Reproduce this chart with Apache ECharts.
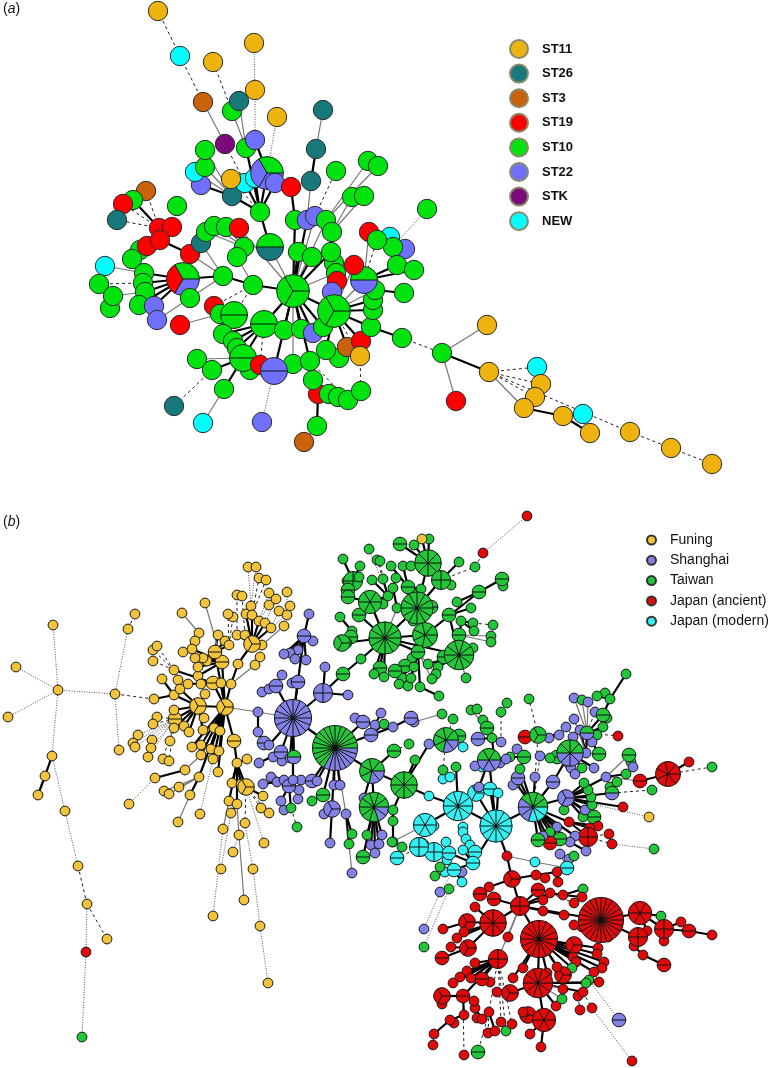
<!DOCTYPE html>
<html><head><meta charset="utf-8">
<style>html,body{margin:0;padding:0;background:#fff}#c{width:775px;height:1068px}</style>
<script src="https://cdn.jsdelivr.net/npm/echarts@6/dist/echarts.min.js"></script>
</head><body><div id="c"></div>
<script>
// Each node: [x, y, isolates (one letter per isolate, clockwise from east), link to parent, children]
// link: s = thick, t = thin, d = dashed, o = dotted
const legendA = [['ST11','Y'],['ST26','T'],['ST3','O'],['ST19','R'],['ST10','G'],['ST22','B'],['STK','P'],['NEW','C']];
const legendB = [['Funing','Y'],['Shanghai','B'],['Taiwan','G'],['Japan (ancient)','R'],['Japan (modern)','C']];

const rightChain = [402,338,'G','s',[
  [442,353,'G','d',[
    [487,325,'Y','t'],[456,401,'R','t'],
    [489,372,'Y','s',[
      [537,367,'C','d'],[541,384,'Y','d'],[535,397,'Y','d'],[524,408,'Y','t',[[563,416,'Y','s',[[590,433,'Y','s'],[583,414,'C','s']]]]],
      [630,432,'Y','d',[[671,448,'Y','d',[[712,464,'Y','d']]]]]
    ]]
  ]]
]];

const treeTop = [260,212,'G','s',[
  [232,196,'T','s',[[201,185,'B','s'],[195,172,'C','t'],[205,167,'G','t'],[205,150,'G','t']]],
  [225,144,'P','d',[[203,102,'O','t',[[180,56,'C','d',[[158,11,'Y','d']]]]]]],
  [246,148,'G','s',[[232,111,'G','t',[[213,62,'Y','d']]],[239,101,'T','t']]],
  [245,183,'C','s'],[255,178,'C','s'],
  [267,173,'BBG','s',[[255,140,'B','s',[[255,90,'Y','o',[[254,43,'Y','o']]]]],[277,117,'Y','o']]],
  [275,183,'B','s'],
  [231,179,'Y','d']
]];

const panelATree = [293,291,'GGG','',[
  [270,247,'TG','t',[treeTop]],
  [295,220,'G','s',[[291,187,'R','s']]],
  [307,220,'B','s',[[311,181,'T','t',[[316,149,'T','s',[[323,110,'T','t']]]]]]],
  [315,216,'B','t',[[336,171,'G','d']]],
  [298,252,'G','s'],[312,257,'G','s'],
  [326,220,'G','t',[[368,161,'G','t'],[378,166,'G','t']]],
  [331,252,'G','s',[[334,263,'G','s'],[332,232,'G','s',[[352,197,'G','t'],[364,196,'G','t']]]]],
  [336,273,'G','t'],
  [253,285,'G','s',[
    [223,276,'G','s',[
      [183,279,'BRG','s',[
        [144,273,'G','s',[[105,266,'C','t'],[132,259,'G','d',[[140,250,'G','t']]]]],
        [143,283,'G','s',[[99,284,'G','d']]],
        [145,292,'G','s',[[113,296,'G','t',[[110,308,'G','t']]]]],
        [139,305,'G','s'],[154,306,'B','s']
      ]],
      [190,298,'G','t',[[157,320,'B','t']]],
      [190,254,'R','t',[[160,240,'R','s',[[147,246,'R','s'],[159,228,'R','s',[[146,191,'O','d'],[133,200,'G','s'],[123,204,'R','d'],[117,220,'T','d']]],[172,227,'R','s',[[177,206,'G','d']]]]]]],
      [201,243,'T','t']
    ]],
    [237,257,'G','t',[[244,247,'G','t',[[206,232,'G','t'],[214,226,'G','t'],[226,227,'G','t']]]]],
    [214,306,'R','d'],
    [234,315,'GG','d',[[220,314,'G','t',[[180,325,'R','t']]]]]
  ]],
  [239,228,'R','t'],
  [264,324,'GG','s',[
    [223,334,'G','s'],[233,341,'G','s'],[237,348,'G','s'],
    [243,358,'GG','s',[[197,359,'G','t'],[212,370,'G','s',[[174,406,'T','d']]],[224,389,'G','s',[[203,423,'C','t']]],[250,370,'G','s']]],
    [260,365,'R','d']
  ]],
  [284,330,'G','s'],[301,329,'G','s'],
  [293,364,'G','t'],
  [274,371,'BB','s',[[262,422,'B','o']]],
  [310,361,'G','s',[[313,380,'G','d',[[318,394,'R','d',[[317,426,'G','s',[[304,442,'O','t']]]]],[329,394,'G','d'],[338,397,'G','t']]],[348,400,'G','d']]],
  [313,333,'B','s'],[323,327,'G','s'],
  [334,311,'GGG','s',[
    [326,350,'G','s',[[339,358,'G','t']]],[347,347,'O','s'],[361,341,'R','s'],[360,356,'Y','d',[[361,391,'G','d']]],
    [371,327,'G','s',[rightChain]],
    [373,310,'G','s'],[373,300,'G','s'],[375,290,'G','t',[[404,293,'G','s']]],
    [364,280,'BG','t',[[369,232,'R','t'],[377,240,'G','d',[[390,237,'C','t'],[405,249,'B','t'],[393,247,'G','t',[[427,209,'G','o']]]]],[397,265,'G','s'],[414,270,'G','s']]],
    [354,265,'R','t'],[337,281,'R','s'],[332,292,'B','s']
  ]]
]];

const leftTree = [115,694,'Y','d',[
  [128,629,'Y','o',[[135,614,'Y','d']]],
  [119,750,'Y','o'],
  [58,690,'Y','o',[
    [53,625,'Y','o'],[16,667,'Y','o'],[8,717,'Y','o'],
    [52,756,'Y','o',[
      [45,776,'Y','s',[[38,795,'Y','s']]],
      [65,811,'Y','o',[[78,866,'Y','o',[[87,904,'Y','d',[[107,939,'Y','d'],[86,952,'R','o',[[82,1037,'G','o']]]]]]]]]
    ]]
  ]]
]];

const funingLow = [237,763,'Y','s',[
  [232,783,'Y','s'],[241,784,'Y','s'],
  [229,801,'Y','s',[[223,829,'Y','t',[[213,916,'Y','o']]]]],
  [237,804,'Y','s',[[231,813,'Y','s',[[221,869,'Y','o']]],[239,835,'Y','t',[[244,900,'Y','t'],[233,852,'Y','o']]]]],
  [246,787,'YYY','s',[[263,796,'Y','s'],[261,808,'Y','d'],[269,813,'Y','d'],[245,823,'Y','d',[[253,869,'Y','o',[[260,926,'Y','o',[[268,983,'Y','o']]]]]]],[264,843,'Y','o']]],
  [247,759,'Y','s']
]];

const funingTop = [252,644,'YYY','s',[
  [237,635,'Y','s',[[237,595,'Y','d']]],[245,635,'Y','s',[[242,596,'Y','d']]],
  [246,614,'Y','s'],[252,615,'Y','s',[[251,606,'Y','s',[[248,567,'Y','o'],[256,567,'Y','o']]],[259,578,'Y','d'],[266,580,'Y','d']]],
  [259,621,'Y','s',[[269,605,'Y','o'],[269,593,'Y','o']]],
  [265,623,'Y','s',[[276,599,'Y','o']]],[271,628,'Y','s',[[279,611,'Y','o'],[287,615,'Y','o',[[290,606,'Y','o'],[287,592,'Y','o']]]]],
  [262,645,'Y','s',[[284,626,'Y','t']]]
]];

const funing = [225,707,'YYY','t',[
  [198,706,'YYY','s',[
    [175,719,'YY','s',[[157,717,'Y','d'],[153,724,'Y','d'],[138,735,'Y','o'],[133,743,'Y','o'],[135,747,'Y','o'],[152,740,'Y','o'],[151,748,'Y','o'],[148,757,'Y','o'],[170,741,'Y','t'],[163,759,'Y','d'],[169,761,'Y','d']]],
    [174,695,'Y','s',[[154,699,'Y','s',[leftTree]],[162,679,'Y','s']]],
    [174,710,'Y','s'],[174,728,'Y','s'],
    [184,726,'Y','s'],[189,732,'Y','s'],[204,718,'Y','s'],[205,694,'Y','s'],[180,689,'Y','s',[[178,680,'Y','s']]],[203,730,'Y','s']
  ]],
  [231,684,'Y','s',[[238,664,'Y','s',[funingTop]],[255,665,'Y','t',[[260,657,'Y','t']]]]],
  [222,662,'YY','s',[[198,676,'Y','s'],[198,667,'Y','s'],[207,661,'Y','s'],[203,658,'Y','s'],[195,658,'Y','s'],[192,649,'Y','s',[[183,652,'Y','s'],[195,641,'Y','s',[[199,633,'Y','s',[[182,613,'Y','t']]]]]]],[205,603,'Y','t']]],
  [215,652,'YY','s',[[218,635,'Y','s'],[225,641,'Y','s'],[229,645,'Y','s',[[233,617,'Y','d'],[228,614,'Y','d']]]]],
  [213,683,'YY','s',[[188,684,'Y','s'],[201,684,'Y','s'],[174,670,'Y','s',[[153,650,'Y','d'],[157,646,'Y','d'],[153,661,'Y','d']]]]],
  [221,683,'Y','s'],
  [214,728,'Y','s'],[220,731,'Y','s'],[211,749,'Y','s'],[219,751,'Y','s'],[213,759,'Y','s',[[200,814,'Y','o']]],[218,772,'Y','s'],
  [234,741,'YY','s',[funingLow]],
  [201,745,'Y','s'],[192,747,'Y','s'],[201,755,'Y','s',[[185,770,'Y','t',[[155,778,'Y','s',[[129,804,'Y','o']]]]]]],
  [199,777,'Y','s',[[190,795,'Y','s',[[178,822,'Y','t']]],[164,791,'Y','t'],[169,794,'Y','t'],[179,787,'Y','t']]]
]];

const shanghai = [293,718,'BBBBBBBBBBBBBBBB','s',[
  [323,693,'BBBB','s',[
    [348,695,'B','s'],[325,667,'B','s'],
    [343,674,'GG','s',[[361,659,'G','s',[
      [385,638,'GGGGGGGGGGGG','s',[
        [342,643,'GGG','s',[[351,637,'GG','s',[[352,631,'G','s',[[340,617,'G','s']]]]],[347,643,'G','s']]],
        [359,615,'GG','s'],[370,602,'GGGGGG','s',[[348,597,'GG','s',[[348,590,'GG','s',[[353,581,'GGGG','s',[[343,559,'G','s'],[347,581,'G','s'],[360,566,'G','s']]],[359,577,'G','s']]]]],[383,604,'G','s'],[388,596,'G','s',[[372,580,'G','s'],[383,579,'G','s',[[377,560,'G','d'],[380,561,'G','d']]],[369,549,'G','o']]]]],
        [397,608,'G','t',[[393,588,'G','s',[[396,578,'G','s']]]]],
        [417,608,'GGGGGGGGGGGG','s',[[431,607,'GG','s'],[412,593,'G','s'],[421,589,'G','s',[[408,587,'GG','s',[[391,566,'G','s'],[403,566,'G','s']]]]],[413,621,'G','s'],
          [428,563,'GGGGGGGG','s',[[411,566,'G','s'],[414,545,'G','s'],[429,539,'G','s'],[422,539,'Y','s'],[400,544,'GG','s'],[434,571,'G','s']]],
          [441,580,'GGGG','s',[[451,585,'G','s'],[459,562,'G','s'],[475,567,'G','d',[[483,553,'R','d',[[527,516,'R','o']]]]]]]
        ]],
        [425,635,'GGGGGGG','s',[[479,592,'GG','s',[[502,579,'GG','s',[[503,586,'G','s']]],[457,602,'G','s']]]]],
        [459,655,'GGGGGGGGGG','s',[[449,615,'GG','s',[[471,608,'G','s']]],[461,621,'G','s',[[473,623,'G','s',[[493,625,'G','d']]],[474,631,'G','s']]],[459,635,'GG','s',[[491,636,'G','t'],[491,642,'G','t']]],[473,648,'G','s'],[444,657,'GG','s'],[466,678,'G','t'],[438,667,'G','s'],[428,664,'G','s']]],
        [418,652,'GG','s',[[412,658,'G','s'],[405,666,'GG','s'],[414,667,'G','s'],[402,678,'G','s'],[395,671,'GG','s'],[399,684,'G','s'],[408,686,'G','s'],[411,678,'G','s'],[420,687,'G','s',[[439,696,'G','s']]],[436,674,'G','t'],[432,679,'G','t']]],
        [380,668,'GG','s'],[384,677,'G','s'],[374,674,'G','s']
      ]]
    ]]]]
  ]],
  [304,636,'BB','s',[[309,614,'B','s'],[313,641,'B','s'],[298,650,'B','s'],[306,660,'B','s'],[290,653,'B','s'],[284,654,'B','s'],[295,659,'B','s']]],
  [298,682,'BB','s',[[292,683,'B','s']]],
  [276,686,'BB','s',[[262,692,'B','s'],[269,689,'B','s'],[282,675,'B','s']]],
  [258,712,'B','t',[funing,[258,732,'B','s',[[264,743,'BB','s']]]]],
  [269,745,'B','s'],[281,752,'BB','s',[[273,757,'B','s'],[259,763,'B','s'],[282,761,'B','s']]],
  [290,758,'B','s'],
  [293,780,'B','s',[[271,777,'B','s'],[277,782,'B','s'],[284,780,'B','s'],[263,784,'B','s'],[301,780,'B','s'],[289,786,'BB','s',[[281,801,'B','s',[[284,810,'B','s']]],[291,808,'G','s',[[297,827,'G','d']]],[299,790,'B','s',[[298,799,'B','s']]]]]]],
  [294,757,'BG','s']
]];

const cyanLow = [473,863,'CC','s',[
  [463,827,'C','s'],[463,832,'C','s'],[466,839,'C','s'],[470,845,'C','s'],[463,850,'C','s'],[475,852,'CC','s'],
  [454,870,'CC','s',[[445,872,'C','s'],[447,860,'C','s'],[440,867,'G','s'],[435,876,'G','s'],[462,872,'B','s'],[462,882,'C','s',[[449,889,'G','o',[[424,947,'G','o']]]]],[440,892,'B','o',[[424,929,'B','o']]]]],
  [449,853,'CC','s',[[434,852,'CCCC','s',[[420,847,'CCCC','s',[[397,858,'CC','d']]]]],[446,842,'C','s']]]
]];

const redTree = [507,856,'R','s',[
  [535,862,'C','t',[[567,868,'CC','t',[[569,859,'B','s'],[574,856,'G','s'],[560,854,'B','t']]]]],
  [512,879,'RRR','s',[
    [536,875,'R','s',[[545,878,'R','s'],[557,872,'R','s',[[558,882,'R','s']]]]],
    [489,887,'R','s',[[480,894,'RR','s']]],
    [520,906,'RRRR','s',[
      [538,890,'RR','s'],[550,893,'R','s',[[563,895,'R','s',[[583,889,'G','s'],[582,897,'R','s']]],[574,903,'R','d']]],[543,900,'R','s'],[543,911,'R','s',[[564,915,'R','s']]],
      [494,899,'RR','s'],
      [493,923,'RRRRRRRR','s',[[475,907,'R','s'],[467,922,'RRR','s',[[443,929,'R','s']]],[464,932,'R','s'],[457,938,'R','s'],[468,948,'RRR','s',[[451,947,'R','s'],[442,958,'RR','s']]]]],
      [508,937,'R','t'],
      [539,939,'RRRRRRRRRRRRRRRR','s',[
        [574,945,'RRR','s'],[573,957,'R','s'],[576,962,'R','s'],[598,948,'R','s'],[597,954,'R','s'],[604,962,'R','s'],[602,968,'R','s'],[594,972,'R','s'],[572,968,'G','s'],
        [563,975,'RRR','s'],[557,967,'R','s'],[547,973,'R','s'],[523,968,'R','s'],[513,978,'R','s'],
        [538,983,'RRRRRRRRRR','s',[
          [510,993,'RRR','s',[[497,992,'R','s']]],
          [544,1020,'RRRRRR','s',[[528,1015,'RRR','s'],[523,1012,'R','s'],[530,1034,'R','s'],[541,1047,'R','s']]],
          [556,1006,'R','s'],[562,999,'G','t'],[563,989,'R','t'],
          [583,992,'R','s',[[578,996,'R','s',[[580,1010,'R','d']]],[592,1008,'R','d',[[632,1061,'R','o']]]]],
          [586,983,'G','s',[[589,980,'G','s',[[619,1020,'BB','o']]]]],[599,982,'R','s']
        ]]
      ]],
      [601,920,'RRRRRRRRRRRRRRRRRRRRRRRR','s',[
        [640,913,'RRRRRR','s',[[661,916,'G','s'],[664,929,'RRRR','s',[[681,922,'R','s'],[689,931,'RR','s',[[712,935,'R','s']]],[664,941,'R','s']]],[647,931,'R','s']]],
        [638,937,'RRRR','s',[[634,946,'R','s',[[643,955,'R','s',[[664,965,'RR','s']]]]]]],
        [582,927,'R','s'],[590,930,'R','s'],[608,937,'R','s'],[574,925,'R','s']
      ]],
      [498,959,'RRRR','t',[
        [475,963,'R','s'],[467,971,'R','s'],[460,977,'R','s'],[471,978,'R','s'],[482,979,'RR','s',[[490,982,'R','s']]],[453,983,'R','s'],
        [463,996,'RR','s',[[442,996,'RRR','s',[[442,1004,'R','s']]],[474,1001,'R','s',[[475,1008,'R','s',[[477,1018,'R','s'],[482,1019,'R','s']]]]],[464,1015,'R','s',[[450,1020,'R','s',[[454,1023,'R','s'],[434,1034,'R','s',[[433,1045,'R','t']]]]]]],[464,1055,'R','d']]],
        [489,1012,'R','d',[[488,1033,'R','d'],[495,1031,'R','s'],[478,1052,'GG','d']]],[501,1022,'R','d'],[506,1031,'G','d'],[512,1024,'R','d']
      ]]
    ]]
  ]]
]];

const eastCluster = [533,807,'CCCBBBGGGG','s',[
  [566,798,'BBB','s',[
    [594,817,'GG','s'],[583,817,'G','s'],[585,810,'B','s'],[592,805,'G','s'],[591,797,'G','s'],[588,790,'G','s'],[584,783,'G','s'],
    [606,777,'B','s',[[640,781,'RR','t',[[668,774,'RRRRRRR','s',[[669,767,'R','s'],[689,762,'R','s'],[712,767,'G','d']]]]],[626,774,'G','s'],[629,755,'GG','t',[[631,762,'G','t'],[633,767,'B','t']]]]],
    [612,793,'BG','s',[[652,790,'G','d'],[610,787,'G','s'],[617,782,'G','s']]],
    [623,807,'R','s'],[649,817,'Y','o'],
    [564,810,'G','s']
  ]],
  [553,782,'BB','s',[
    [570,753,'BBBBGGGG','s',[[557,757,'GG','s'],[550,758,'G','s'],[568,763,'B','s'],[571,768,'B','s'],[575,774,'B','s'],[582,768,'G','s'],[586,753,'B','s',[[574,719,'B','t'],[566,727,'B','t'],[580,730,'B','s'],[573,737,'B','s'],[587,733,'BG','s',[[574,698,'B','t'],[582,700,'G','t'],[588,702,'B','t'],[595,712,'B','d'],[603,715,'GG','s',[[607,718,'G','s'],[610,699,'G','s',[[626,674,'G','s'],[605,693,'G','s'],[597,696,'G','s']]]]],[603,727,'G','s'],[597,735,'G','s'],[592,742,'B','s'],[618,736,'R','d'],[599,754,'GG','s']]]]],[594,768,'B','s']]]
  ]],
  [535,777,'B','s'],[516,783,'G','s'],[518,778,'BB','s',[[513,785,'B','s']]],[520,769,'G','s',[[524,757,'GG','s',[[510,757,'G','s'],[517,749,'B','s']]]]],
  [540,756,'B','d'],
  [538,735,'GGG','d',[[525,737,'RR','s'],[529,699,'G','d'],[549,738,'B','s'],[559,735,'B','s']]],
  [569,822,'R','s',[[598,826,'R','s'],[590,828,'R','s'],[588,837,'RRRR','s',[[609,834,'R','d'],[612,844,'R','d',[[654,849,'G','o']]]]]]],
  [557,827,'B','s'],[550,832,'G','s'],[575,836,'B','s'],[570,842,'B','s',[[586,851,'B','s']]],[560,839,'GG','s'],[550,843,'RR','s'],[543,836,'B','s'],[538,840,'GG','s']
]];

const cyanHub = [496,826,'CCCCCCCCCCCC','s',[
  eastCluster, cyanLow, redTree,
  [476,793,'CCC','s'],[490,789,'CC','s'],[498,793,'C','s'],
  [489,760,'BBBGGG','s',[
    [482,767,'C','s'],[475,766,'B','s'],[500,763,'B','s'],[506,759,'B','s'],[494,757,'G','s',[[492,738,'G','s',[[487,728,'GG','s',[[483,720,'G','s'],[471,710,'G','t'],[477,709,'G','t']]],[478,739,'BB','s'],[501,742,'B','s',[[501,712,'G','d',[[507,703,'G','d']]]]]]]]],
    [479,787,'B','s']
  ]]
]];

const panelBTree = [335,748,'BBBBBBBBGGGGGGGGGGGGGGGG','',[
  shanghai,
  [363,722,'BB','s',[[355,718,'B','s'],[375,725,'B','s',[[381,713,'B','s']]]]],
  [371,735,'BB','s',[[384,724,'G','s'],[393,727,'B','s',[[411,718,'BB','s',[[414,722,'B','s',[[442,714,'G','t']]]]]]]]],
  [312,781,'BB','s'],[317,781,'B','s'],[334,785,'B','s'],[340,785,'B','s'],
  [323,795,'GG','s',[[312,801,'G','s']]],
  [332,809,'BBB','s',[[324,814,'B','s'],[330,843,'B','s']]],
  [346,814,'B','t',[[352,834,'G','s'],[349,844,'G','s',[[352,873,'B','t']]]]],
  [372,771,'BBGGGGG','s',[
    [394,751,'GG','s',[[409,744,'G','d']]],
    [364,798,'B','s'],
    [374,807,'BBGGGGGGGG','s',[[365,807,'G','s'],[367,835,'G','s'],[382,835,'B','s'],[371,845,'B','s'],[379,844,'B','s'],[375,853,'B','s'],[363,857,'GG','s']]],
    [404,785,'GGGGGGGG','s',[
      [393,810,'G','s',[[393,821,'G','s',[[393,842,'G','s',[[402,847,'G','d']]]]]]],
      [415,760,'G','s'],
      [429,744,'B','s',[[446,740,'BBGGGGG','s',[[459,736,'GG','s'],[463,747,'C','d'],[453,719,'G','d'],[443,770,'G','d',[[443,779,'C','d'],[450,777,'C','d']]]]]]],
      [429,796,'C','s',[
        [458,806,'CCCCCCCCCC','s',[[456,767,'G','s'],cyanHub,
          [425,825,'CCCCCC','s',[[434,826,'C','s'],[392,842,'G','t'],[419,847,'CCCC','d']]]
        ]]
      ]]
    ]]
  ]]
]];

const palette = {
  a:{Y:'#EEB30E',T:'#17797C',O:'#C9620B',R:'#FF0000',G:'#00E30E',B:'#7070FF',P:'#7B0A7C',C:'#00FFFF'},
  b:{Y:'#F2C43C',B:'#8282E6',G:'#22C638',R:'#E00A0A',C:'#33F0F2'}
};
const unitRadius = {a:9.7, b:4.9};
const sizeExponent = 0.48;
const linkStyle = {
  s:{stroke:'#000',lineWidth:2.2},
  t:{stroke:'#777',lineWidth:1.2},
  d:{stroke:'#222',lineWidth:1,lineDash:[3,3]},
  o:{stroke:'#555',lineWidth:1,lineDash:[1,1.5]}
};

const nodes=[], links=[];
function walk(n, parent, panel){
  const [x,y,c,s,kids]=n;
  if(parent) links.push({p:[parent[0],parent[1]],q:[x,y],s});
  (kids||[]).forEach(k=>walk(k,n,panel));
  nodes.push({x,y,c,panel});
}
walk(panelATree,null,'a');
walk(panelBTree,null,'b');
links.reverse();

function renderLink(params,api){
  const l=links[params.dataIndex];
  const a=api.coord(l.p), b=api.coord(l.q);
  return {type:'line',shape:{x1:a[0],y1:a[1],x2:b[0],y2:b[1]},style:Object.assign({fill:null},linkStyle[l.s])};
}
function renderNode(params,api){
  const n=nodes[params.dataIndex], pos=api.coord([n.x,n.y]);
  const cnt=n.c.length, r=unitRadius[n.panel]*Math.pow(cnt,sizeExponent);
  const col=palette[n.panel];
  const edge=n.panel==='a'?'#2a2a2a':'#1a1a1a';
  const ch=[];
  if(cnt===1){
    ch.push({type:'circle',shape:{cx:pos[0],cy:pos[1],r},style:{fill:col[n.c],stroke:edge,lineWidth:1}});
  }else{
    const st=2*Math.PI/cnt;
    for(let i=0;i<cnt;i++){
      ch.push({type:'sector',shape:{cx:pos[0],cy:pos[1],r,r0:0,startAngle:i*st,endAngle:(i+1)*st,clockwise:true},style:{fill:col[n.c[i]],stroke:col[n.c[i]],lineWidth:0.4}});
    }
    for(let i=0;i<cnt;i++){
      ch.push({type:'line',shape:{x1:pos[0],y1:pos[1],x2:pos[0]+r*Math.cos(i*st),y2:pos[1]+r*Math.sin(i*st)},style:{stroke:'#111',lineWidth:1}});
    }
    ch.push({type:'circle',shape:{cx:pos[0],cy:pos[1],r},style:{fill:null,stroke:edge,lineWidth:1}});
  }
  return {type:'group',children:ch};
}

const font='"Liberation Sans",Arial,sans-serif';
const emptySeries=(names,pal,prefix)=>names.map(([name,k])=>({
  type:'scatter',name,data:[],symbol:'circle',
  itemStyle:{color:pal[k],opacity:1,borderColor:prefix==='a'?'#8a8a6a':'#333',borderWidth:1}
}));

const chart=echarts.init(document.getElementById('c'),null,{renderer:'canvas'});
chart.setOption({
  animation:false,backgroundColor:'#fff',
  grid:{left:0,right:0,top:0,bottom:0},
  xAxis:{type:'value',min:0,max:775,show:false},
  yAxis:{type:'value',min:0,max:1068,inverse:true,show:false},
  title:[
    {text:'({i|a})',left:3,top:2,padding:0,textStyle:{fontFamily:font,fontSize:14,fontWeight:'normal',color:'#111',rich:{i:{fontFamily:font,fontSize:14,fontStyle:'italic',color:'#111'}}}},
    {text:'({i|b})',left:3,top:515,padding:0,textStyle:{fontFamily:font,fontSize:14,fontWeight:'normal',color:'#111',rich:{i:{fontFamily:font,fontSize:14,fontStyle:'italic',color:'#111'}}}}
  ],
  legend:[
    {data:legendA.map(d=>d[0]),orient:'vertical',left:509,top:39,padding:0,itemWidth:18,itemHeight:18,itemGap:4.6,icon:'circle',selectedMode:false,
     textStyle:{fontFamily:font,fontSize:13,fontWeight:'bold',color:'#111',padding:[0,0,0,9]}},
    {data:legendB.map(d=>d[0]),orient:'vertical',left:646,top:533,padding:0,itemWidth:9,itemHeight:9,itemGap:6.3,icon:'circle',selectedMode:false,
     textStyle:{fontFamily:font,fontSize:14,color:'#111',lineHeight:14,padding:[0,0,0,9]}}
  ],
  series:[
    {type:'custom',name:'links',coordinateSystem:'cartesian2d',clip:false,silent:true,z:2,renderItem:renderLink,data:links.map(l=>l.p)},
    {type:'custom',name:'nodes',coordinateSystem:'cartesian2d',clip:false,silent:true,z:3,renderItem:renderNode,data:nodes.map(n=>[n.x,n.y])},
    ...emptySeries(legendA,palette.a,'a'),
    ...emptySeries(legendB,palette.b,'b')
  ]
});
</script></body></html>
